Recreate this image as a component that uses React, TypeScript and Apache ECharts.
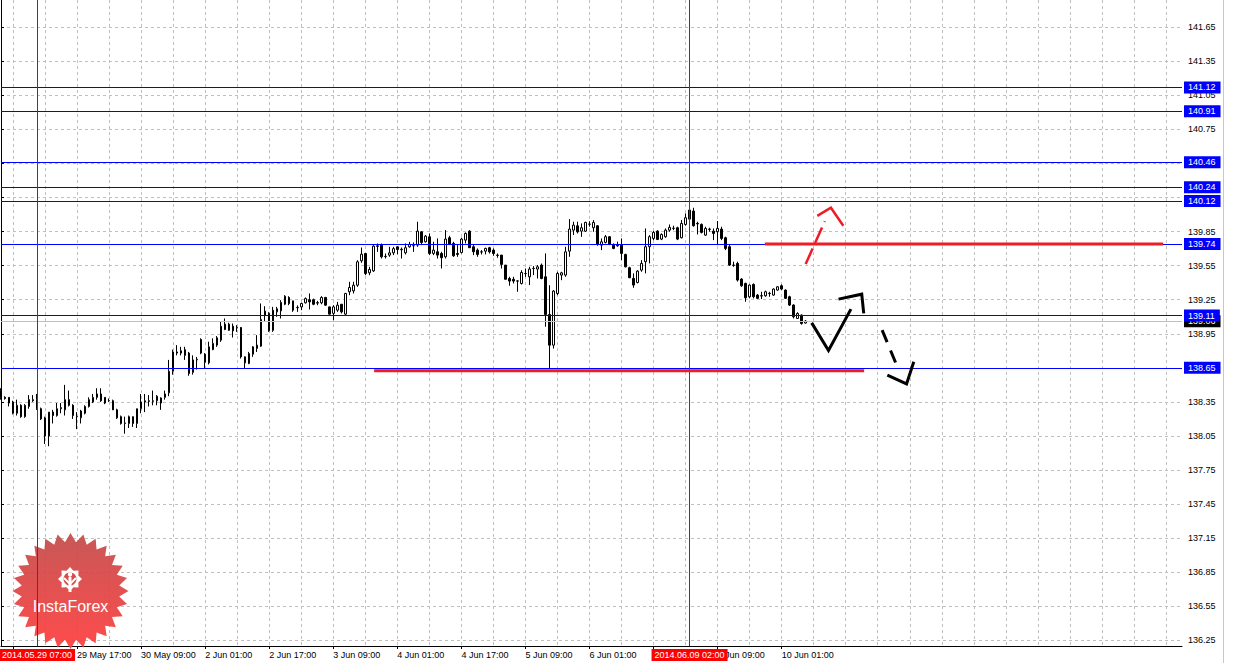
import React, { useEffect, useRef } from 'react';
import * as echarts from 'echarts';

// ---------- axis labels ----------
const tickLabels = [
  '29 May 01:00', '29 May 17:00', '30 May 09:00', '2 Jun 01:00', '2 Jun 17:00',
  '3 Jun 09:00', '4 Jun 01:00', '4 Jun 17:00', '5 Jun 09:00', '6 Jun 01:00',
  '6 Jun 17:00', '9 Jun 09:00', '10 Jun 01:00',
];
const FIRST_TICK = 3;
const TICK_STEP = 16;
const GRID_STEP = 8;
const SLOTS = 296;

const priceTicks = [
  136.25, 136.55, 136.85, 137.15, 137.45, 137.75, 138.05, 138.35, 138.65, 138.95,
  139.25, 139.55, 139.85, 140.15, 140.45, 140.75, 141.05, 141.35, 141.65,
];
const Y_MIN = 136.2;
const Y_MAX = 141.89;

// ---------- levels ----------
const blueLevels = [141.12, 140.91, 140.46, 140.24, 140.12, 139.74, 139.11, 138.65];
const bidLevel = 139.06;
const crosshairs = [
  { index: 9, label: '2014.05.29 07:00' },
  { index: 172, label: '2014.06.09 02:00' },
];

// ---------- hourly candles [open, close, low, high] ----------
const candles: number[][] = [
  [138.45, 138.39, 138.37, 138.47], [138.39, 138.38, 138.37, 138.40], [138.39, 138.34, 138.31, 138.39],
  [138.35, 138.25, 138.24, 138.36], [138.25, 138.32, 138.23, 138.37], [138.32, 138.22, 138.21, 138.33],
  [138.22, 138.32, 138.21, 138.33], [138.31, 138.37, 138.29, 138.41], [138.36, 138.37, 138.35, 138.41],
  [138.37, 138.29, 138.28, 138.42], [138.29, 138.20, 138.19, 138.30], [138.21, 138.05, 137.98, 138.22],
  [138.05, 138.26, 137.96, 138.26], [138.26, 138.23, 138.16, 138.28], [138.23, 138.29, 138.22, 138.34],
  [138.29, 138.30, 138.25, 138.34], [138.28, 138.37, 138.23, 138.50], [138.37, 138.32, 138.31, 138.45],
  [138.32, 138.23, 138.20, 138.33], [138.22, 138.222, 138.11, 138.26], [138.21, 138.27, 138.16, 138.28],
  [138.25, 138.31, 138.24, 138.32], [138.31, 138.37, 138.30, 138.39], [138.35, 138.39, 138.34, 138.42],
  [138.39, 138.42, 138.37, 138.47], [138.42, 138.36, 138.35, 138.47], [138.39, 138.34, 138.33, 138.39],
  [138.36, 138.362, 138.35, 138.38], [138.36, 138.28, 138.28, 138.37], [138.28, 138.21, 138.20, 138.29],
  [138.22, 138.16, 138.15, 138.23], [138.16, 138.165, 138.07, 138.22], [138.16, 138.22, 138.12, 138.23],
  [138.22, 138.16, 138.13, 138.22], [138.16, 138.29, 138.12, 138.29], [138.29, 138.35, 138.25, 138.42],
  [138.35, 138.36, 138.26, 138.42], [138.36, 138.355, 138.31, 138.41], [138.355, 138.36, 138.32, 138.45],
  [138.36, 138.40, 138.32, 138.41], [138.34, 138.385, 138.28, 138.39], [138.39, 138.42, 138.37, 138.45],
  [138.43, 138.62, 138.40, 138.72], [138.62, 138.79, 138.59, 138.81], [138.79, 138.78, 138.76, 138.85],
  [138.80, 138.78, 138.76, 138.835], [138.81, 138.76, 138.72, 138.835], [138.78, 138.60, 138.58, 138.79],
  [138.61, 138.72, 138.59, 138.76], [138.72, 138.725, 138.635, 138.746], [138.90, 138.78, 138.77, 138.91],
  [138.77, 138.70, 138.64, 138.78], [138.694, 138.835, 138.68, 138.88], [138.81, 138.865, 138.806, 138.91],
  [138.85, 138.915, 138.835, 138.93], [138.894, 139.017, 138.879, 139.055], [139.035, 138.988, 138.982, 139.085],
  [138.98, 139.035, 138.976, 139.047], [139.017, 138.976, 138.917, 139.04], [139.0, 139.005, 138.967, 139.026],
  [139.005, 138.747, 138.732, 139.01], [138.747, 138.694, 138.644, 138.75], [138.688, 138.776, 138.682, 138.79],
  [138.77, 138.835, 138.747, 138.841], [138.82, 138.85, 138.79, 138.938], [138.841, 139.076, 138.835, 139.217],
  [139.11, 139.15, 139.055, 139.193], [139.129, 138.976, 138.967, 139.14], [138.98, 139.158, 138.967, 139.187],
  [139.143, 139.17, 139.10, 139.187], [139.152, 139.226, 139.085, 139.246], [139.21, 139.281, 139.202, 139.29],
  [139.27, 139.217, 139.202, 139.281], [139.24, 139.158, 139.143, 139.24], [139.18, 139.182, 139.143, 139.20],
  [139.187, 139.217, 139.158, 139.223], [139.223, 139.26, 139.217, 139.27], [139.25, 139.231, 139.164, 139.305],
  [139.25, 139.21, 139.202, 139.26], [139.22, 139.225, 139.202, 139.24], [139.223, 139.27, 139.21, 139.281],
  [139.27, 139.202, 139.196, 139.275], [139.187, 139.123, 139.12, 139.19], [139.13, 139.187, 139.07, 139.202],
  [139.158, 139.202, 139.143, 139.231], [139.21, 139.143, 139.129, 139.213], [139.123, 139.305, 139.114, 139.31],
  [139.32, 139.358, 139.29, 139.408], [139.328, 139.378, 139.305, 139.408], [139.378, 139.584, 139.363, 139.598],
  [139.593, 139.651, 139.575, 139.71], [139.657, 139.481, 139.466, 139.66], [139.487, 139.516, 139.466, 139.54],
  [139.504, 139.722, 139.495, 139.73], [139.72, 139.725, 139.672, 139.745], [139.73, 139.628, 139.613, 139.745],
  [139.63, 139.632, 139.613, 139.657], [139.643, 139.663, 139.628, 139.716], [139.663, 139.70, 139.643, 139.716],
  [139.716, 139.692, 139.65, 139.722], [139.69, 139.695, 139.613, 139.71], [139.663, 139.708, 139.649, 139.746],
  [139.716, 139.737, 139.708, 139.76], [139.725, 139.726, 139.672, 139.755], [139.731, 139.854, 139.716, 139.937],
  [139.848, 139.754, 139.731, 139.854], [139.76, 139.81, 139.754, 139.82], [139.804, 139.658, 139.643, 139.834],
  [139.658, 139.687, 139.643, 139.76], [139.672, 139.643, 139.613, 139.79], [139.657, 139.62, 139.525, 139.672],
  [139.628, 139.784, 139.613, 139.863], [139.796, 139.737, 139.731, 139.813], [139.746, 139.637, 139.628, 139.76],
  [139.657, 139.649, 139.628, 139.731], [139.666, 139.784, 139.657, 139.796], [139.775, 139.834, 139.746, 139.843],
  [139.854, 139.708, 139.708, 139.863], [139.716, 139.672, 139.643, 139.731], [139.687, 139.649, 139.628, 139.702],
  [139.67, 139.672, 139.649, 139.687], [139.678, 139.702, 139.649, 139.708], [139.708, 139.672, 139.657, 139.716],
  [139.687, 139.657, 139.637, 139.702], [139.64, 139.643, 139.62, 139.657], [139.643, 139.561, 139.525, 139.643],
  [139.555, 139.43, 139.43, 139.555], [139.437, 139.414, 139.373, 139.452], [139.43, 139.414, 139.393, 139.452],
  [139.414, 139.416, 139.32, 139.423], [139.393, 139.49, 139.384, 139.51], [139.48, 139.481, 139.452, 139.525],
  [139.452, 139.52, 139.379, 139.54], [139.525, 139.526, 139.467, 139.546], [139.52, 139.54, 139.437, 139.555],
  [139.555, 139.437, 139.43, 139.569], [139.452, 139.12, 139.012, 139.658], [139.12, 138.85, 138.645, 139.378],
  [138.85, 139.326, 138.82, 139.335], [139.305, 139.481, 139.29, 139.496], [139.467, 139.487, 139.422, 139.496],
  [139.467, 139.672, 139.452, 139.716], [139.678, 139.872, 139.628, 139.96], [139.863, 139.907, 139.82, 139.937],
  [139.901, 139.848, 139.834, 139.937], [139.854, 139.884, 139.804, 139.922], [139.854, 139.931, 139.848, 139.937],
  [139.915, 139.916, 139.893, 139.942], [139.884, 139.931, 139.848, 139.951], [139.901, 139.737, 139.725, 139.907],
  [139.731, 139.76, 139.687, 139.79], [139.755, 139.805, 139.746, 139.82], [139.805, 139.737, 139.731, 139.81],
  [139.737, 139.702, 139.695, 139.746], [139.73, 139.725, 139.717, 139.761], [139.731, 139.658, 139.599, 139.79],
  [139.649, 139.54, 139.535, 139.655], [139.532, 139.444, 139.44, 139.54], [139.438, 139.379, 139.355, 139.482],
  [139.402, 139.502, 139.394, 139.51], [139.511, 139.57, 139.496, 139.599], [139.585, 139.717, 139.482, 139.878],
  [139.717, 139.805, 139.57, 139.819], [139.79, 139.843, 139.775, 139.855], [139.854, 139.781, 139.775, 139.863],
  [139.784, 139.825, 139.775, 139.834], [139.805, 139.863, 139.796, 139.878], [139.863, 139.887, 139.849, 139.913],
  [139.878, 139.88, 139.863, 139.902], [139.884, 139.784, 139.775, 139.893], [139.796, 139.922, 139.79, 139.952],
  [139.913, 139.972, 139.902, 140.01], [140.04, 139.96, 139.952, 140.054], [140.031, 139.902, 139.893, 140.06],
  [139.922, 139.918, 139.825, 139.937], [139.913, 139.843, 139.834, 139.922], [139.819, 139.878, 139.813, 139.893],
  [139.872, 139.87, 139.849, 139.884], [139.854, 139.834, 139.775, 139.878], [139.849, 139.878, 139.731, 139.943],
  [139.872, 139.79, 139.775, 139.893], [139.796, 139.702, 139.687, 139.805], [139.717, 139.555, 139.549, 139.731],
  [139.555, 139.553, 139.54, 139.585], [139.57, 139.423, 139.41, 139.585], [139.432, 139.373, 139.364, 139.44],
  [139.394, 139.267, 139.232, 139.40], [139.276, 139.379, 139.262, 139.385], [139.385, 139.276, 139.262, 139.394],
  [139.291, 139.262, 139.256, 139.30], [139.285, 139.283, 139.256, 139.32], [139.285, 139.32, 139.276, 139.33],
  [139.306, 139.304, 139.276, 139.32], [139.291, 139.344, 139.285, 139.35], [139.335, 139.364, 139.33, 139.37],
  [139.373, 139.344, 139.335, 139.385], [139.335, 139.262, 139.256, 139.34], [139.276, 139.203, 139.195, 139.285],
  [139.203, 139.10, 139.085, 139.21], [139.085, 139.129, 139.08, 139.14], [139.115, 139.041, 139.03, 139.12],
  [139.045, 139.062, 139.04, 139.07],
];

// ---------- drawn objects [bar position, price] ----------
const resistanceLine = [[190.8, 139.74], [290.3, 139.74]];
const supportLine = [[93.2, 138.625], [215.6, 138.625]];
const redArrowShaft = [[201.0, 139.564], [205.8, 139.942]];
const redArrowHead = [[203.9, 139.989], [207.3, 140.06], [210.4, 139.901]];
const blackZigzag = [[202.5, 139.046], [206.7, 138.803], [212.3, 139.167]];
const blackZigzagHead = [[209.2, 139.255], [215.0, 139.299], [215.5, 139.129]];
const blackDashShaft = [[220.1, 138.982], [223.9, 138.659]];
const blackDashHead = [[221.4, 138.586], [226.2, 138.509], [228.0, 138.703]];

const FONT = 'Liberation Sans, Arial, sans-serif';
const BLUE = '#0000ff';
const RED = '#ee1c25';

const categories = Array.from({ length: SLOTS }, (_, k) => {
  const j = (k - FIRST_TICK) / TICK_STEP;
  return Number.isInteger(j) && j >= 0 && j < tickLabels.length ? tickLabels[j] : 'h' + k;
});
const isLabel = (i: number) => {
  const j = (i - FIRST_TICK) / TICK_STEP;
  return Number.isInteger(j) && j >= 0 && j < tickLabels.length;
};

function drawn(data: number[][], color: string, width: number, type: any = 'solid') {
  return {
    type: 'line', xAxisIndex: 1, yAxisIndex: 0, data, symbol: 'none', silent: true, z: 6,
    lineStyle: { color, width, type, cap: 'butt', join: 'miter' }, animation: false,
  };
}

function starPoints(cx: number, cy: number, n: number, ro: number, ri: number) {
  const pts: number[][] = [];
  for (let k = 0; k < 2 * n; k++) {
    const a = (k * Math.PI) / n - Math.PI / 2;
    const r = k % 2 === 0 ? ro : ri;
    pts.push([cx + r * Math.cos(a), cy + r * Math.sin(a)]);
  }
  return pts;
}

export default function App() {
  const ref = useRef<HTMLDivElement>(null);
  useEffect(() => {
    if (!ref.current) return;
    const chart = echarts.init(ref.current, undefined, { renderer: 'svg' });
    const markData: any[] = [
      {
        yAxis: bidLevel,
        lineStyle: { color: '#c0c0c0', width: 1, type: 'solid' },
        label: {
          show: true, position: 'end', distance: 2, formatter: bidLevel.toFixed(2),
          backgroundColor: '#000', color: '#fff', padding: [1, 5, 1, 4], fontSize: 9, lineHeight: 10, fontFamily: FONT,
        },
      },
      ...blueLevels.map((v) => ({
        yAxis: v,
        lineStyle: { color: BLUE, width: 1, type: 'solid' },
        label: {
          show: true, position: 'end', distance: 2, formatter: v.toFixed(2),
          backgroundColor: BLUE, color: '#fff', padding: [1, 5, 1, 4], fontSize: 9, lineHeight: 10, fontFamily: FONT,
        },
      })),
      ...crosshairs.map((c) => ({
        xAxis: categories[c.index],
        lineStyle: { color: '#e00000', width: 1, type: 'solid' },
        label: {
          show: true, position: 'start', distance: 3, formatter: c.label,
          backgroundColor: '#ff0000', color: '#fff', padding: [1, 3, 1, 3], fontSize: 9, lineHeight: 10, fontFamily: FONT,
        },
      })),
    ];
    const option: any = {
      animation: false,
      backgroundColor: '#ffffff',
      grid: { left: 1, top: 0, width: 1181, height: 646, containLabel: false },
      xAxis: [
        {
          type: 'category', data: categories, boundaryGap: false, position: 'bottom',
          axisLine: { show: true, lineStyle: { color: '#000', width: 1 } },
          axisTick: { show: true, interval: (i: number) => isLabel(i), length: 3, lineStyle: { color: '#000' } },
          axisLabel: {
            show: true, interval: (i: number) => isLabel(i), align: 'left', margin: 4, hideOverlap: false,
            fontSize: 9, color: '#000', fontFamily: FONT,
            formatter: (v: string) => v,
          },
          splitLine: {
            show: true, interval: (i: number) => (i - FIRST_TICK) % GRID_STEP === 0,
            lineStyle: { color: '#c0c0c0', type: [3, 3], width: 1 },
          },
        },
        { type: 'value', min: 0, max: SLOTS - 1, show: false },
      ],
      yAxis: [
        {
          type: 'value', position: 'right', min: Y_MIN, max: Y_MAX, scale: true,
          axisLine: { show: true, lineStyle: { color: '#000', width: 1 } },
          axisTick: { show: true, length: 3, customValues: priceTicks, lineStyle: { color: '#000' } },
          axisLabel: {
            show: true, customValues: priceTicks, formatter: (v: number) => v.toFixed(2),
            margin: 6, fontSize: 9, color: '#000', fontFamily: FONT,
          },
          splitLine: { show: true, lineStyle: { color: '#c0c0c0', type: [3, 3], width: 1 } },
        },
      ],
      graphic: [
        {
          type: 'polygon', z: 1, silent: true,
          shape: { points: starPoints(70.5, 591, 28, 58, 49) },
          style: {
            fill: new echarts.graphic.LinearGradient(0, 0, 0, 1, [
              { offset: 0, color: '#c24a48' },
              { offset: 1, color: '#ff3c3c' },
            ]),
            opacity: 0.92,
          },
        },
        {
          type: 'polygon', z: 1, silent: true,
          shape: { points: starPoints(70, 579, 8, 12, 9) },
          style: { fill: '#ffffff' },
        },
        { type: 'circle', z: 1, silent: true, shape: { cx: 70, cy: 579, r: 6.5 }, style: { fill: '#d94a48' } },
        { type: 'rect', z: 1, silent: true, shape: { x: 68.5, y: 577, width: 3, height: 15 }, style: { fill: '#ffffff' } },
        { type: 'circle', z: 1, silent: true, shape: { cx: 70, cy: 574.5, r: 2.2 }, style: { fill: '#ffffff' } },
        {
          type: 'polyline', z: 1, silent: true, shape: { points: [[64, 578], [70, 584], [76, 578]] },
          style: { stroke: '#ffffff', lineWidth: 2, fill: null },
        },
        {
          type: 'text', z: 1, silent: true, x: 70.5, y: 606,
          style: {
            text: 'InstaForex', fill: '#ffffff', font: '16px "Liberation Sans", Arial, sans-serif',
            align: 'center', verticalAlign: 'middle',
          },
        },
        {
          type: 'line', z: 1, silent: true, shape: { x1: 1223.5, y1: 0, x2: 1223.5, y2: 663 },
          style: { stroke: '#c8c8c8', lineWidth: 1 },
        },
      ],
      series: [
        {
          type: 'candlestick', xAxisIndex: 0, yAxisIndex: 0, data: candles, barWidth: 2, z: 3,
          itemStyle: { color: '#ffffff', color0: '#000000', borderColor: '#000000', borderColor0: '#000000', borderWidth: 1 },
          markLine: { symbol: ['none', 'none'], silent: true, animation: false, z: 5, data: markData },
        },
        drawn(resistanceLine, RED, 3),
        drawn(supportLine, RED, 3),
        drawn(redArrowShaft, RED, 2.5, [17, 6]),
        drawn(redArrowHead, RED, 2.5),
        drawn(blackZigzag, '#000', 3),
        drawn(blackZigzagHead, '#000', 3),
        drawn(blackDashShaft, '#000', 3, [13, 9]),
        drawn(blackDashHead, '#000', 3),
      ],
    };
    chart.setOption(option);
    return () => chart.dispose();
  }, []);
  return <div ref={ref} style={{ position: 'fixed', left: 0, top: 0, width: 1233, height: 663 }} />;
}
